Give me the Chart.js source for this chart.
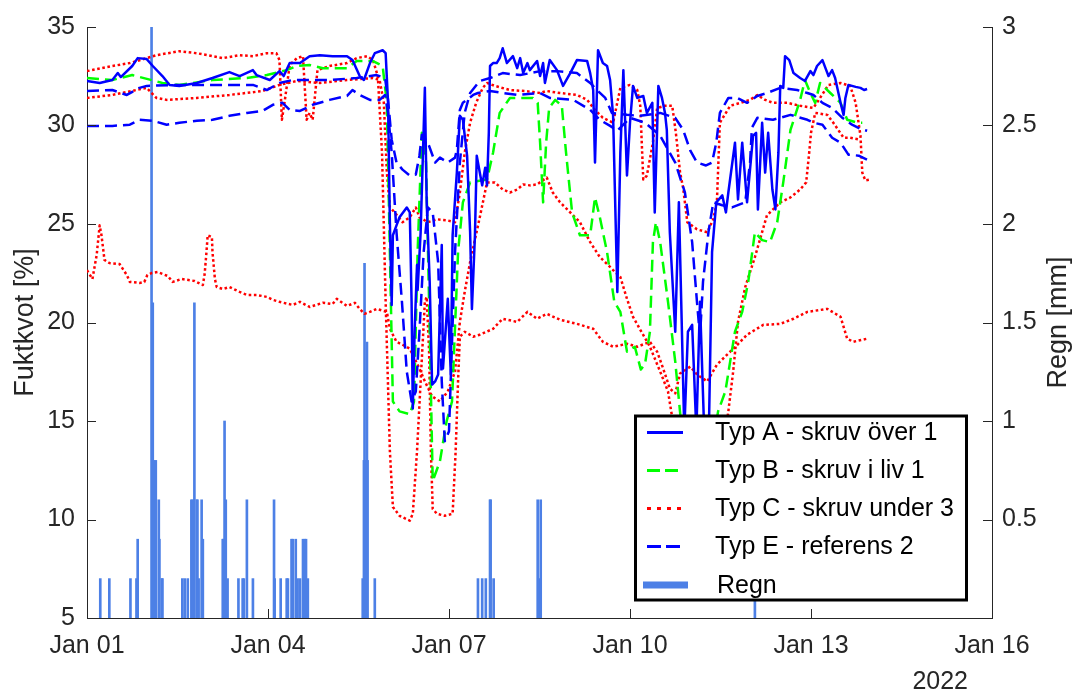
<!DOCTYPE html>
<html lang="sv">
<head>
<meta charset="utf-8">
<title>Fuktkvot och regn, januari 2022</title>
<script src="https://cdn.jsdelivr.net/npm/chart.js@4.4.1/dist/chart.umd.min.js"></script>
<style>
  html, body { margin: 0; padding: 0; background: #ffffff; }
  canvas { display: block; }
</style>
</head>
<body>
<canvas id="chart" width="1079" height="693"></canvas>
<script>
// x values: days since 2022-01-01 00:00
const dayTicks = [0, 3, 6, 9, 12, 15];
const dayTickLabels = ['Jan 01', 'Jan 04', 'Jan 07', 'Jan 10', 'Jan 13', 'Jan 16'];
const yearLabel = '2022';

// Fuktkvot [%] per sensor, [day, value]
const typA = [[0,32.26],[0.21,32.16],[0.42,32.31],[0.51,32.66],[0.56,32.46],[0.75,33.02],[0.84,33.42],[0.99,33.37],[1.09,33.02],[1.25,32.51],
  [1.37,32.06],[1.53,32.01],[1.82,32.16],[2.08,32.41],[2.36,32.71],[2.53,32.51],[2.75,32.81],[2.81,32.56],[3.03,32.31],[3.19,32.76],
  [3.26,32.51],[3.36,33.17],[3.53,33.17],[3.69,33.52],[3.86,33.57],[4.07,33.52],[4.31,33.52],[4.40,33.32],[4.52,32.51],[4.59,32.31],
  [4.69,33.17],[4.77,33.67],[4.90,33.82],[4.95,33.67],[4.99,31.15],[5.02,25.09],[5.05,20.89],[5.07,24.43],[5.13,24.93],[5.18,25.34],
  [5.30,25.84],[5.35,25.59],[5.38,21.05],[5.40,15.64],[5.43,19.53],[5.47,22.92],[5.48,21.65],[5.53,24.58],[5.60,31.91],[5.63,26.10],
  [5.68,22.06],[5.72,16.85],[5.77,17.01],[5.82,17.36],[5.88,23.93],[5.90,17.66],[5.98,21.20],[6.03,17.36],[6.06,24.43],[6.13,27.61],
  [6.18,30.49],[6.23,30.29],[6.30,28.47],[6.35,24.58],[6.38,20.69],[6.43,24.43],[6.46,28.47],[6.51,27.61],[6.55,26.96],[6.60,27.86],
  [6.63,26.96],[6.66,29.63],[6.68,33.02],[6.73,33.17],[6.79,33.17],[6.84,33.42],[6.89,33.92],[6.96,33.17],[7.06,33.52],[7.13,32.91],
  [7.18,33.42],[7.23,32.66],[7.30,33.17],[7.34,32.81],[7.46,33.27],[7.51,32.51],[7.56,33.17],[7.59,32.16],[7.67,33.32],[7.79,32.81],
  [7.89,32.01],[8.01,32.66],[8.12,33.32],[8.29,33.27],[8.34,32.66],[8.39,31.80],[8.42,28.12],[8.47,33.82],[8.55,33.17],[8.62,33.02],
  [8.67,32.31],[8.72,30.49],[8.79,21.55],[8.84,28.62],[8.89,32.81],[8.95,27.46],[9.00,30.14],[9.05,32.01],[9.12,31.40],[9.22,31.50],
  [9.28,30.64],[9.37,31.15],[9.41,25.59],[9.47,32.01],[9.53,31.40],[9.58,30.64],[9.61,29.78],[9.66,24.58],[9.75,19.53],[9.81,26.10],
  [9.90,14.48],[9.96,19.53],[10.03,19.88],[10.10,14.48],[10.16,21.05],[10.23,14.48],[10.31,14.98],[10.36,23.57],[10.43,26.10],[10.53,26.45],
  [10.59,25.59],[10.63,26.60],[10.74,29.13],[10.79,26.25],[10.86,29.13],[10.94,26.10],[11.04,29.48],[11.09,29.63],[11.12,25.74],[11.19,30.14],
  [11.24,27.61],[11.29,29.63],[11.36,26.75],[11.41,25.74],[11.46,28.62],[11.49,32.01],[11.54,31.91],[11.57,33.52],[11.64,33.32],[11.71,32.66],
  [11.82,32.41],[11.90,32.26],[11.99,32.76],[12.04,32.56],[12.10,33.02],[12.19,33.32],[12.24,32.91],[12.29,32.51],[12.35,32.81],[12.40,32.41],
  [12.49,31.15],[12.54,30.54],[12.57,31.40],[12.62,32.06],[12.74,31.96],[12.82,31.91],[12.88,31.80],[12.93,31.85]];

const typB = [[0,32.41],[0.42,32.31],[0.75,32.56],[1.25,32.16],[1.53,32.06],[2.08,32.31],[2.65,32.41],[2.98,32.56],[3.31,32.81],[3.48,33.02],
  [3.69,33.07],[3.91,32.91],[4.31,32.91],[4.47,33.27],[4.74,33.27],[4.90,33.02],[4.97,31.15],[5.02,23.57],[5.07,15.99],[5.18,15.49],
  [5.35,15.34],[5.42,15.99],[5.48,23.57],[5.55,29.63],[5.62,28.12],[5.67,21.05],[5.73,11.95],[5.85,12.96],[5.96,14.98],[6.05,15.99],
  [6.15,23.57],[6.23,26.10],[6.35,27.11],[6.63,27.26],[6.73,28.62],[6.84,30.64],[7.01,31.40],[7.18,31.40],[7.39,31.40],[7.47,31.15],
  [7.51,29.13],[7.56,26.10],[7.61,29.13],[7.66,30.89],[7.76,31.30],[7.87,31.00],[7.94,28.62],[8.04,25.59],[8.17,24.43],[8.34,24.43],
  [8.42,26.35],[8.50,25.34],[8.62,23.57],[8.74,21.05],[8.84,20.54],[8.95,18.52],[9.08,18.77],[9.18,17.61],[9.25,17.91],[9.33,19.53],
  [9.38,24.08],[9.43,25.09],[9.50,24.08],[9.63,21.05],[9.75,18.01],[9.86,14.48],[10.00,11.95],[10.16,10.94],[10.33,12.96],[10.46,15.49],
  [10.58,16.50],[10.74,19.53],[10.86,20.54],[10.96,22.06],[11.07,24.58],[11.19,24.18],[11.32,24.08],[11.44,25.09],[11.54,27.11],[11.66,29.78],
  [11.82,31.30],[11.90,32.31],[11.99,31.65],[12.07,31.15],[12.15,32.16],[12.32,31.65],[12.49,31.15],[12.60,30.29],[12.77,30.14],[12.85,30.14]];

const typC1 = [[0,32.76],[0.42,33.02],[0.71,33.17],[0.99,33.42],[1.15,33.57],[1.53,33.77],[1.82,33.67],[2.08,33.52],[2.25,33.42],[2.53,33.57],
  [2.75,33.52],[2.98,33.67],[3.14,33.67],[3.19,33.32],[3.23,30.29],[3.28,31.30],[3.36,33.07],[3.48,33.42],[3.58,33.52],[3.64,30.29],
  [3.69,30.64],[3.74,30.29],[3.82,32.81],[4.02,33.02],[4.31,33.17],[4.47,33.42],[4.64,33.52],[4.74,33.32],[4.82,32.51],[4.89,28.62],
  [4.95,21.05],[5.02,13.47],[5.07,10.64],[5.18,10.19],[5.35,9.94],[5.40,10.29],[5.47,13.47],[5.53,17.01],[5.60,21.05],[5.63,21.30],
  [5.67,18.52],[5.70,13.47],[5.73,10.54],[5.80,10.29],[5.93,10.19],[6.06,10.29],[6.11,13.47],[6.15,17.01],[6.18,19.28],[6.26,19.53],
  [6.40,19.28],[6.51,19.38],[6.73,19.68],[6.89,20.19],[7.13,20.03],[7.30,20.54],[7.46,20.19],[7.62,20.44],[7.84,20.14],[8.12,19.93],
  [8.39,19.68],[8.55,19.02],[8.72,18.77],[8.95,18.92],[9.12,18.77],[9.33,19.02],[9.45,18.52],[9.55,17.66],[9.66,16.65],[9.75,16.40],
  [9.83,17.41],[10.00,17.76],[10.11,17.36],[10.28,17.01],[10.44,17.86],[10.61,18.37],[10.78,18.87],[10.94,19.38],[11.21,19.88],[11.49,19.93],
  [11.71,20.19],[11.94,20.54],[12.27,20.69],[12.49,20.29],[12.60,19.18],[12.70,19.02],[12.93,19.18]];

const typC2 = [[0,31.40],[0.42,31.55],[0.99,31.91],[1.15,31.40],[1.32,31.30],[1.82,31.40],[2.36,31.55],[2.91,31.75],[3.19,32.06],[3.48,32.26],
  [3.86,32.16],[4.31,32.31],[4.74,32.41],[4.85,32.31],[4.92,31.15],[4.97,27.61],[5.02,25.84],[5.10,25.59],[5.23,25.09],[5.35,25.34],
  [5.45,25.84],[5.51,25.34],[5.65,25.09],[5.80,25.24],[5.96,25.19],[6.10,25.09],[6.18,26.60],[6.26,28.62],[6.35,30.14],[6.45,31.15],
  [6.56,31.91],[6.63,32.16],[6.76,32.01],[7.01,31.80],[7.26,31.75],[7.51,31.65],[7.62,31.75],[7.84,31.65],[8.12,31.55],[8.29,31.30],
  [8.42,30.79],[8.55,30.39],[8.72,30.14],[8.84,31.91],[9.00,32.06],[9.12,31.80],[9.17,31.00],[9.22,27.26],[9.28,27.46],[9.38,29.13],
  [9.45,30.89],[9.58,31.00],[9.70,31.00],[9.76,29.63],[9.83,27.61],[9.88,26.85],[9.95,25.09],[10.11,24.73],[10.28,24.58],[10.38,25.24],
  [10.44,26.10],[10.49,30.14],[10.66,31.00],[10.83,31.15],[10.99,31.30],[11.11,31.55],[11.24,31.30],[11.37,31.15],[11.61,31.15],[11.82,31.00],
  [12.04,30.89],[12.15,31.40],[12.29,32.06],[12.49,32.16],[12.65,32.01],[12.74,31.15],[12.82,29.48],[12.85,27.61],[12.90,27.21],[12.98,27.26]];

const typC3 = [[0,22.66],[0.09,22.21],[0.16,23.42],[0.21,24.93],[0.24,24.43],[0.29,23.17],[0.37,23.02],[0.54,22.97],[0.66,22.41],[0.71,22.06],
  [0.87,22.01],[0.95,22.06],[1.00,22.41],[1.07,22.51],[1.17,22.56],[1.34,22.36],[1.42,22.06],[1.57,22.21],[1.78,22.11],[1.92,21.90],
  [1.95,22.46],[1.98,23.57],[2.00,24.43],[2.07,24.34],[2.08,23.57],[2.12,22.21],[2.15,21.80],[2.25,21.70],[2.36,21.80],[2.53,21.55],
  [2.65,21.40],[2.81,21.40],[2.98,21.30],[3.08,21.15],[3.19,21.05],[3.41,20.89],[3.53,21.05],[3.69,20.79],[3.91,21.00],[4.07,20.94],
  [4.14,21.20],[4.31,20.84],[4.44,21.00],[4.52,20.69],[4.60,20.44],[4.69,20.54],[4.80,20.69],[4.97,20.54],[5.02,19.68],[5.07,19.38],
  [5.13,19.02],[5.23,18.87],[5.35,18.67],[5.43,18.17],[5.51,17.66],[5.60,17.01],[5.72,16.25],[5.85,15.99],[5.98,16.50],[6.10,17.51],
  [6.18,20.03],[6.26,21.55],[6.35,23.07],[6.51,25.34],[6.63,27.11],[6.76,27.11],[6.89,26.75],[7.01,26.60],[7.13,26.75],[7.23,27.01],
  [7.34,26.96],[7.46,27.01],[7.62,27.36],[7.72,26.60],[7.84,26.10],[7.96,25.74],[8.09,25.34],[8.17,25.09],[8.34,24.08],[8.50,23.32],
  [8.62,22.97],[8.72,22.66],[8.84,22.31],[8.95,21.20],[9.05,20.29],[9.17,19.63],[9.33,18.77],[9.50,17.51],[9.63,16.50],[9.71,14.98],
  [9.83,12.46],[10.16,10.94],[10.49,12.46],[10.63,15.49],[10.71,17.51],[10.79,20.03],[10.91,21.80],[11.07,23.32],[11.27,25.44],[11.49,26.10],
  [11.66,26.35],[11.82,26.75],[11.92,27.11],[11.97,28.62],[12.00,29.63],[12.07,30.64],[12.27,30.54],[12.37,30.14],[12.54,29.38],[12.65,29.38],
  [12.82,29.28]];

const typE1 = [[0,31.75],[0.42,31.80],[0.66,31.55],[0.87,31.91],[0.99,32.01],[1.53,32.06],[2.08,32.06],[2.75,32.06],[2.98,31.80],[3.19,32.16],
  [3.41,32.31],[4.02,32.31],[4.47,32.41],[4.80,32.56],[4.94,32.41],[4.99,31.30],[5.05,29.28],[5.13,28.12],[5.23,27.76],[5.35,27.46],
  [5.45,27.51],[5.51,28.47],[5.55,29.53],[5.65,29.13],[5.77,28.12],[5.85,28.37],[5.98,28.12],[6.10,28.37],[6.13,28.77],[6.18,30.79],
  [6.23,31.15],[6.40,31.55],[6.48,31.65],[6.68,31.75],[6.89,31.65],[7.13,31.55],[7.51,31.65],[7.67,31.40],[8.06,31.30],[8.34,30.79],
  [8.50,30.29],[8.67,29.98],[8.79,29.73],[9.00,30.39],[9.25,30.14],[9.50,29.48],[9.75,28.12],[9.91,26.60],[10.03,24.08],[10.11,21.05],
  [10.16,19.28],[10.21,22.06],[10.30,24.58],[10.38,26.10],[10.53,25.95],[10.69,25.84],[10.91,26.10],[10.99,28.12],[11.02,29.88],[11.11,30.39],
  [11.37,30.29],[11.66,30.54],[11.94,30.29],[12.04,30.14],[12.19,30.04],[12.35,29.38],[12.49,29.13],[12.62,28.52],[12.79,28.47],[12.93,28.27]];

const typE2 = [[0,29.98],[0.42,29.98],[0.71,30.04],[0.87,30.29],[1.09,30.24],[1.32,30.04],[1.53,30.14],[1.82,30.24],[2.08,30.29],[2.36,30.49],
  [2.65,30.64],[2.91,30.74],[3.08,31.05],[3.24,31.15],[3.36,30.79],[3.53,30.74],[3.74,31.05],[4.02,31.30],[4.31,31.50],[4.40,31.80],
  [4.52,31.55],[4.69,31.30],[4.85,31.30],[4.94,31.55],[4.99,30.64],[5.05,28.62],[5.13,24.58],[5.22,21.05],[5.30,17.51],[5.38,15.99],
  [5.45,16.50],[5.51,19.53],[5.58,23.57],[5.65,25.84],[5.73,25.59],[5.82,23.07],[5.88,17.01],[5.93,13.97],[6.00,14.48],[6.05,19.02],
  [6.10,23.57],[6.18,28.12],[6.26,30.64],[6.35,31.65],[6.51,32.26],[6.68,32.41],[6.89,32.66],[7.18,32.56],[7.51,32.76],[7.79,32.76],
  [8.12,32.66],[8.34,32.16],[8.45,31.80],[8.59,31.40],[8.70,30.64],[8.95,30.54],[9.17,30.49],[9.50,30.64],[9.75,30.39],[9.88,29.78],
  [10.00,28.72],[10.11,28.12],[10.26,27.97],[10.36,28.12],[10.43,29.13],[10.49,30.64],[10.63,31.40],[10.78,31.40],[10.94,31.15],[11.11,31.50],
  [11.27,31.65],[11.49,31.91],[11.77,31.80],[11.94,31.65],[12.04,31.55],[12.19,31.15],[12.35,30.89],[12.52,30.39],[12.68,30.04],[12.82,29.83],
  [12.93,29.73]];

// Regn [mm] per registrering
const rainDay = [0.22,0.37,0.72,0.82,0.84,1.07,1.09,1.11,1.14,1.19,1.20,1.24,1.25,1.58,1.62,1.67,1.73,1.75,1.78,1.82,
  1.83,1.85,1.90,1.92,2.25,2.26,2.28,2.30,2.33,2.51,2.58,2.60,2.65,2.75,3.10,3.11,3.21,3.31,3.33,3.39,
  3.41,3.46,3.49,3.53,3.58,3.61,3.63,3.66,4.57,4.59,4.60,4.62,4.64,4.65,4.77,6.48,6.55,6.61,6.68,6.69,
  6.74,7.47,7.49,7.52,11.07];
const rainMm = [0.2,0.2,0.2,0.2,0.4,3.0,1.6,0.8,0.8,0.6,0.4,0.2,0.2,0.2,0.2,0.2,0.6,0.6,1.6,0.6,
  0.6,0.2,0.6,0.4,0.4,0.4,1.0,0.6,0.2,0.2,0.2,0.2,0.6,0.2,0.6,0.2,0.2,0.2,0.2,0.4,
  0.4,0.4,0.2,0.2,0.4,0.4,0.4,0.2,0.2,0.8,1.8,0.8,1.4,0.8,0.2,0.2,0.2,0.2,0.6,0.6,
  0.2,0.6,0.2,0.6,0.5];

const AXIS = '#262626';
const FONT = '"Liberation Sans", Arial, Helvetica, sans-serif';
const BLUE = '#0000ff', GREEN = '#00ff00', RED = '#ff0000', RAIN = 'rgb(77,128,230)';
const SOLID = [], DASH = [12, 6], DOT = [2.6, 2.6];

const toPoints = arr => arr.map(p => ({ x: p[0], y: p[1] }));

function lineSet(label, arr, color, dash, order) {
  return {
    type: 'line', label, data: toPoints(arr), yAxisID: 'y',
    borderColor: color, backgroundColor: color, borderWidth: 2.5, borderDash: dash,
    borderCapStyle: 'butt', borderJoinStyle: 'round',
    pointRadius: 0, pointHoverRadius: 0, tension: 0, fill: false, order
  };
}

const legendItems = [
  { text: 'Typ A - skruv över 1', color: BLUE, dash: SOLID },
  { text: 'Typ B - skruv i liv 1', color: GREEN, dash: [13, 5] },
  { text: 'Typ C - skruv under 3', color: RED, dash: [4, 6] },
  { text: 'Typ E - referens 2', color: BLUE, dash: [14, 5] },
  { text: 'Regn', color: RAIN, bar: true }
];

// inward tick marks, axis titles, year label and legend box
const frame = {
  id: 'frame',
  afterDraw(chart) {
    const { ctx, chartArea: a, scales } = chart;
    const T = 9;
    ctx.save();
    ctx.strokeStyle = AXIS;
    ctx.lineWidth = 1;
    ctx.setLineDash([]);
    ctx.beginPath();
    scales.y.ticks.forEach(t => {
      const p = Math.round(scales.y.getPixelForValue(t.value)) + 0.5;
      ctx.moveTo(a.left, p); ctx.lineTo(a.left + T, p);
    });
    scales.y2.ticks.forEach(t => {
      const p = Math.round(scales.y2.getPixelForValue(t.value)) + 0.5;
      ctx.moveTo(a.right, p); ctx.lineTo(a.right - T, p);
    });
    scales.x.ticks.forEach(t => {
      const p = Math.round(scales.x.getPixelForValue(t.value)) + 0.5;
      ctx.moveTo(p, a.bottom); ctx.lineTo(p, a.bottom - T);
    });
    ctx.stroke();

    // legend
    const bx = 635.5, by = 416, bw = 331, bh = 184;
    ctx.fillStyle = '#ffffff';
    ctx.fillRect(bx, by, bw, bh);
    ctx.lineWidth = 3;
    ctx.strokeStyle = '#000000';
    ctx.strokeRect(bx, by, bw, bh);
    const rowY = [432.5, 470.5, 508.5, 546.5, 585];
    ctx.font = `25px ${FONT}`;
    ctx.textAlign = 'left';
    ctx.textBaseline = 'middle';
    legendItems.forEach((it, i) => {
      const y = rowY[i];
      ctx.beginPath();
      if (it.bar) {
        ctx.setLineDash([]);
        ctx.lineWidth = 7;
        ctx.lineCap = 'butt';
        ctx.strokeStyle = it.color;
        ctx.moveTo(643, y); ctx.lineTo(688, y);
      } else {
        ctx.setLineDash(it.dash);
        ctx.lineWidth = 3;
        ctx.lineCap = 'butt';
        ctx.strokeStyle = it.color;
        ctx.moveTo(647, y); ctx.lineTo(683, y);
      }
      ctx.stroke();
      ctx.setLineDash([]);
      ctx.fillStyle = '#000000';
      ctx.fillText(it.text, it.bar ? 717 : 715, y + 1);
    });

    // axis titles
    const cy = (a.top + a.bottom) / 2;
    ctx.fillStyle = AXIS;
    ctx.font = `27px ${FONT}`;
    ctx.textAlign = 'center';
    ctx.textBaseline = 'middle';
    ctx.save(); ctx.translate(26, cy); ctx.rotate(-Math.PI / 2); ctx.fillText('Fuktkvot [%]', 0, 0); ctx.restore();
    ctx.save(); ctx.translate(1059, cy); ctx.rotate(-Math.PI / 2); ctx.fillText('Regn [mm]', 0, 0); ctx.restore();

    ctx.font = `25px ${FONT}`;
    ctx.textAlign = 'right';
    ctx.fillText(yearLabel, a.right - 24, 682);
    ctx.restore();
  }
};

const tickFont = { family: FONT, size: 25 };

new Chart(document.getElementById('chart'), {
  type: 'line',
  data: {
    datasets: [
      lineSet('Typ A - skruv över 1', typA, BLUE, SOLID, 1),
      lineSet('Typ E - referens 2', typE2, BLUE, DASH, 2),
      lineSet('Typ E - referens 1', typE1, BLUE, DASH, 3),
      lineSet('Typ B - skruv i liv 1', typB, GREEN, DASH, 4),
      lineSet('Typ C - skruv under 3', typC1, RED, DOT, 5),
      lineSet('Typ C - skruv under 2', typC2, RED, DOT, 6),
      lineSet('Typ C - skruv under 1', typC3, RED, DOT, 7),
      {
        type: 'bar', label: 'Regn', yAxisID: 'y2', order: 20,
        data: rainDay.map((d, i) => ({ x: d, y: rainMm[i] })),
        backgroundColor: RAIN, borderWidth: 0, barThickness: 2, grouped: false
      }
    ]
  },
  options: {
    responsive: false,
    animation: false,
    devicePixelRatio: 1,
    events: [],
    layout: { padding: { top: 24, left: 0, right: 0, bottom: 0 } },
    plugins: { legend: { display: false }, tooltip: { enabled: false } },
    scales: {
      x: {
        type: 'linear', position: 'bottom', min: 0, max: 15, offset: false,
        afterBuildTicks: s => { s.ticks = dayTicks.map(v => ({ value: v })); },
        afterFit: s => { s.height = 75; },
        ticks: {
          autoSkip: false, maxRotation: 0, padding: 13, color: AXIS, font: tickFont,
          callback: v => { const i = dayTicks.indexOf(v); return i >= 0 ? dayTickLabels[i] : ''; }
        },
        grid: { display: false, drawTicks: false, offset: false },
        border: { display: true, color: AXIS, width: 1 }
      },
      y: {
        type: 'linear', position: 'left', min: 5, max: 35,
        afterFit: s => { s.width = 87; },
        ticks: { stepSize: 5, padding: 12, color: AXIS, font: tickFont },
        grid: { display: false, drawTicks: false },
        border: { display: true, color: AXIS, width: 1 }
      },
      y2: {
        type: 'linear', position: 'right', min: 0, max: 3,
        afterFit: s => { s.width = 87; },
        ticks: {
          stepSize: 0.5, padding: 10, color: AXIS, font: tickFont,
          callback: v => (v === 0 ? '' : String(v))
        },
        grid: { display: false, drawTicks: false },
        border: { display: true, color: AXIS, width: 1 }
      }
    }
  },
  plugins: [frame]
});
</script>
</body>
</html>
